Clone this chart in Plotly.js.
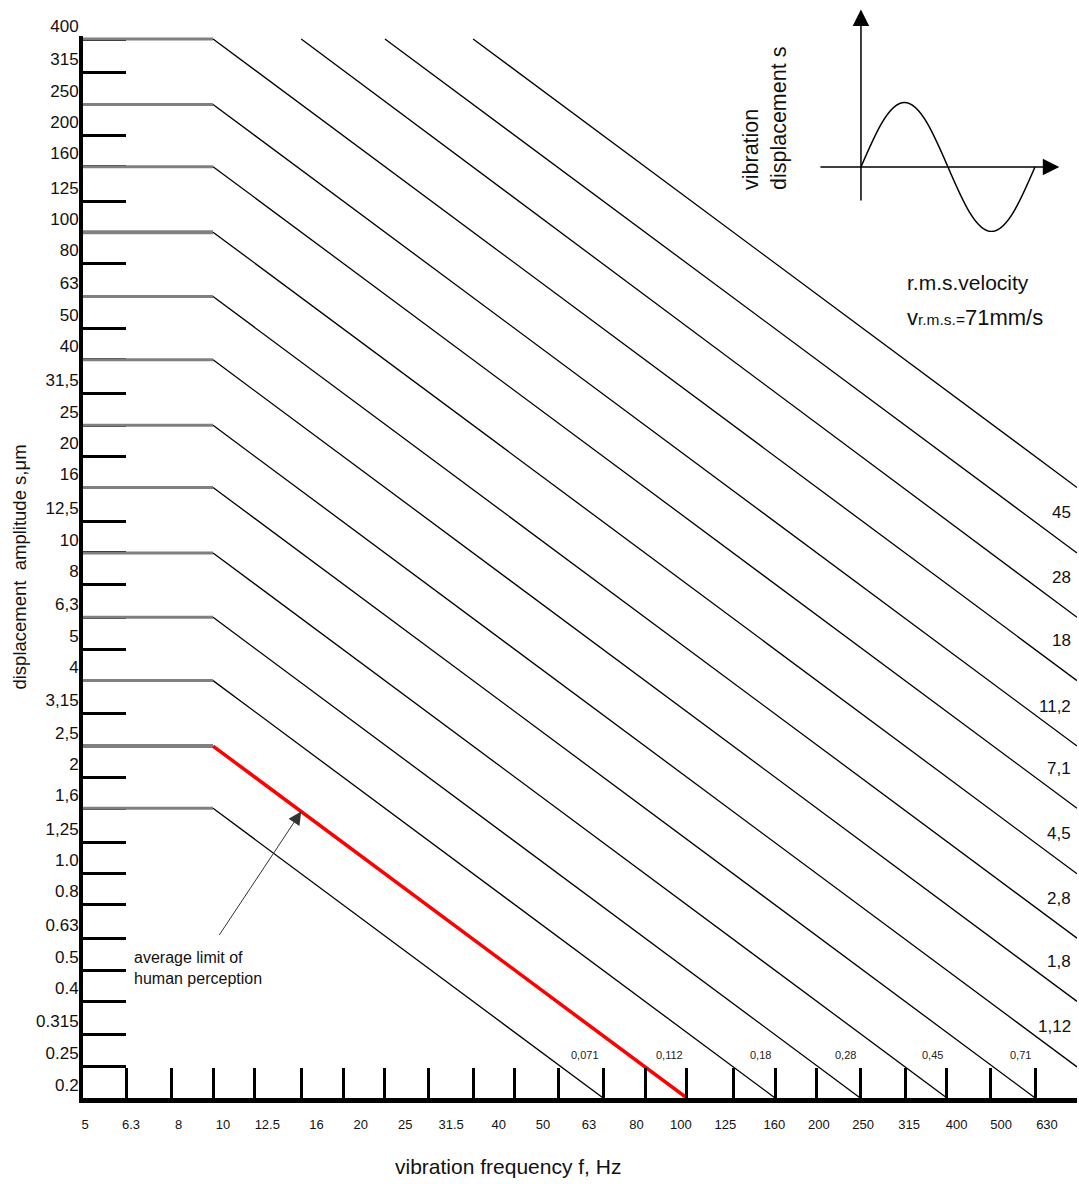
<!DOCTYPE html>
<html>
<head>
<meta charset="utf-8">
<script src="https://cdn.plot.ly/plotly-3.0.1.min.js"></script>
<style>
  html, body { margin: 0; padding: 0; background: #ffffff; }
  #chart { width: 1079px; height: 1184px; }
</style>
</head>
<body>
<div id="chart"></div>
<script>
// ---------------- DATA ----------------
// Displacement axis (µm): R10 tick values and labels as printed on the chart
const dispTicks = [0.2, 0.25, 0.315, 0.4, 0.5, 0.63, 0.8, 1, 1.25, 1.6, 2, 2.5, 3.15, 4, 5, 6.3, 8, 10,
                   12.5, 16, 20, 25, 31.5, 40, 50, 63, 80, 100, 125, 160, 200, 250, 315, 400];
const dispLabels = ['0.2', '0.25', '0.315', '0.4', '0.5', '0.63', '0.8', '1.0', '1,25', '1,6', '2', '2,5', '3,15', '4',
                    '5', '6,3', '8', '10', '12,5', '16', '20', '25', '31,5', '40', '50', '63', '80', '100', '125',
                    '160', '200', '250', '315', '400'];

// Frequency axis (Hz): tick marks and printed labels
const freqTicks = [6.3, 8, 10, 12.5, 16, 20, 25, 31.5, 40, 50, 63, 80, 100, 125, 160, 200, 250, 315, 400, 500, 630, 800, 1000];
const freqLabelVals = [5, 6.3, 8, 10, 12.5, 16, 20, 25, 31.5, 40, 50, 63, 80, 100, 125, 160, 200, 250, 315, 400, 500, 630];
const freqLabels = ['5', '6.3', '8', '10', '12.5', '16', '20', '25', '31.5', '40', '50', '63', '80', '100', '125',
                    '160', '200', '250', '315', '400', '500', '630'];

// Constant r.m.s. velocity lines (mm/s): label and end points (frequency Hz, displacement µm)
const velLabels     = ['0,071', '0,112', '0,18', '0,28', '0,45', '0,71', '1,12', '1,8', '2,8', '4,5', '7,1', '11,2', '18', '28', '45', '71'];
const lineStartFreq = [10, 10, 10, 10, 10, 10, 10, 10, 10, 10, 10, 10, 10, 16, 25, 40];
const lineStartDisp = [1.6, 2.5, 4, 6.3, 10, 16, 25, 40, 63, 100, 160, 250, 400, 400, 400, 400];
const lineEndFreq   = [80, 125, 200, 315, 500, 800, 1000, 1000, 1000, 1000, 1000, 1000, 1000, 1000, 1000, 1000];
const lineEndDisp   = [0.2, 0.2, 0.2, 0.2, 0.2, 0.2, 0.25, 0.4, 0.63, 1, 1.6, 2.5, 4, 6.3, 10, 16];

// Constant-displacement segments below 10 Hz (µm), from 5 Hz to 10 Hz
const flatDisp = [1.6, 2.5, 4, 6.3, 10, 16, 25, 40, 63, 100, 160, 250, 400];
const flatFreqFrom = 5, flatFreqTo = 10;
const flatThick = [2.5, 100];   // segments drawn heavier in the original

// Highlighted line: average limit of human perception
const perceptionLabel = '0,112';
const perceptionPoint = {f: 16, s: 1.5625};
const perceptionText = {f: 6.5, s: 0.51};

// ---------------- BUILD ----------------
const FONT = 'Liberation Sans, Arial, Helvetica, sans-serif';
const L = Math.log10;
const traces = [];

flatDisp.forEach(s => {
  traces.push({
    x: [flatFreqFrom, flatFreqTo], y: [s, s], mode: 'lines',
    line: {color: '#808080', width: flatThick.includes(s) ? 4 : 3},
    hoverinfo: 'skip', showlegend: false, xaxis: 'x', yaxis: 'y'
  });
});

velLabels.forEach((lab, i) => {
  if (lab === perceptionLabel) return;
  traces.push({
    x: [lineStartFreq[i], lineEndFreq[i]], y: [lineStartDisp[i], lineEndDisp[i]], mode: 'lines',
    line: {color: '#000000', width: 1.3},
    hoverinfo: 'skip', showlegend: false, xaxis: 'x', yaxis: 'y'
  });
});
const pi = velLabels.indexOf(perceptionLabel);
traces.push({
  x: [lineStartFreq[pi], lineEndFreq[pi]], y: [lineStartDisp[pi], lineEndDisp[pi]], mode: 'lines',
  line: {color: '#ff0000', width: 3.5},
  hoverinfo: 'skip', showlegend: false, xaxis: 'x', yaxis: 'y'
});

// carrier traces so the label axis and the inset axes exist
traces.push({x: [freqLabelVals[0]], y: [dispTicks[0]], xaxis: 'x2', yaxis: 'y', mode: 'markers',
             marker: {opacity: 0}, hoverinfo: 'skip', showlegend: false});
traces.push({x: [0], y: [0], xaxis: 'x3', yaxis: 'y3', mode: 'markers',
             marker: {opacity: 0}, hoverinfo: 'skip', showlegend: false});

const annotations = [];
const lastIdx = velLabels.length - 1;
velLabels.forEach((lab, i) => {
  if (i === lastIdx) return;
  if (lineEndDisp[i] === dispTicks[0]) {
    annotations.push({xref: 'x', yref: 'y', x: L(lineEndFreq[i]), y: L(lineEndDisp[i]), text: lab,
      showarrow: false, xanchor: 'right', yanchor: 'middle', xshift: -2, yshift: 43,
      font: {family: FONT, size: 11, color: '#222'}});
  } else {
    annotations.push({xref: 'x', yref: 'y', x: L(lineEndFreq[i]), y: L(lineEndDisp[i]), text: lab,
      showarrow: false, xanchor: 'right', yanchor: 'middle', xshift: -4, yshift: 40,
      font: {family: FONT, size: 17, color: '#111'}});
  }
});

// perception arrow and text
annotations.push({xref: 'x', yref: 'y', x: L(perceptionPoint.f), y: L(perceptionPoint.s), text: '',
  showarrow: true, arrowhead: 2, arrowsize: 2.6, arrowwidth: 1, arrowcolor: '#333', ax: -83, ay: 125});
annotations.push({xref: 'x', yref: 'y', x: L(perceptionText.f), y: L(perceptionText.s),
  text: 'average limit of<br>human perception', showarrow: false, align: 'left',
  xanchor: 'left', yanchor: 'middle', font: {family: FONT, size: 16, color: '#111'}});

// x-axis title
annotations.push({xref: 'paper', yref: 'paper', x: 0.4276, y: -0.0628, text: 'vibration frequency f, Hz',
  showarrow: false, xanchor: 'center', yanchor: 'middle', font: {family: FONT, size: 21, color: '#111'}});

// inset: axes arrows, sine, captions
annotations.push({xref: 'x3', yref: 'y3', axref: 'x3', ayref: 'y3', x: 0, y: 2.44, ax: 0, ay: -0.543,
  text: '', showarrow: true, arrowhead: 2, arrowsize: 2.2, arrowwidth: 1.5, arrowcolor: '#000'});
annotations.push({xref: 'x3', yref: 'y3', axref: 'x3', ayref: 'y3', x: 1.14, y: 0, ax: -0.2414, ay: 0,
  text: '', showarrow: true, arrowhead: 2, arrowsize: 2.2, arrowwidth: 1.5, arrowcolor: '#000'});
annotations.push({xref: 'paper', yref: 'paper', x: 0.6861, y: 0.8925, text: 'vibration<br>displacement s',
  textangle: -90, align: 'left', xanchor: 'center', yanchor: 'middle', showarrow: false,
  font: {family: FONT, size: 21.5, color: '#111'}});
annotations.push({xref: 'paper', yref: 'paper', x: 0.827, y: 0.7423, text: 'r.m.s.velocity',
  xanchor: 'left', yanchor: 'middle', showarrow: false, font: {family: FONT, size: 21, color: '#111'}});
annotations.push({xref: 'paper', yref: 'paper', x: 0.827, y: 0.7104,
  text: 'v<span style="font-size:15.5px">r.m.s.=</span>' + velLabels[lastIdx] + 'mm/s',
  xanchor: 'left', yanchor: 'middle', showarrow: false, font: {family: FONT, size: 22, color: '#111'}});

const shapes = [{
  type: 'path', xref: 'x3', yref: 'y3',
  path: 'M0,0 C0.0815,0.5122 0.16,1 0.25,1 C0.34,1 0.4185,0.5122 0.5,0 C0.5815,-0.5122 0.66,-1 0.75,-1 C0.84,-1 0.9185,-0.5122 1,0',
  line: {color: '#000', width: 1.5}
}];

// 3 px of headroom above the 400 µm line so its stroke is not clipped
const topPad = 3 / 320.8;

const layout = {
  width: 1079, height: 1184,
  margin: {l: 83, r: 2, t: 0, b: 86, pad: 0},
  paper_bgcolor: '#ffffff', plot_bgcolor: 'rgba(0,0,0,0)',
  font: {family: FONT, color: '#111'},
  showlegend: false,
  xaxis: {type: 'log', range: [L(5), 3], domain: [0, 1], tickmode: 'array', tickvals: freqTicks,
          ticks: 'inside', ticklen: 30, tickwidth: 3, tickcolor: '#000', showticklabels: false,
          showline: true, linewidth: 5, linecolor: '#000', showgrid: false, zeroline: false, fixedrange: true},
  xaxis2: {type: 'log', overlaying: 'x', side: 'bottom', anchor: 'y', range: [0.6945, 2.8649],
           tickmode: 'array', tickvals: freqLabelVals, ticktext: freqLabels, ticks: '',
           showline: false, showgrid: false, zeroline: false, ticklabelstandoff: 17,
           tickfont: {family: FONT, size: 13, color: '#111'}, fixedrange: true},
  yaxis: {type: 'log', range: [L(0.2), L(400) + topPad], domain: [0, 1062 / 1098], tickmode: 'array',
          tickvals: dispTicks, ticktext: dispLabels, ticks: 'inside', ticklen: 43, tickwidth: 3, tickcolor: '#000',
          ticklabelposition: 'outside top', ticklabelstandoff: -3, tickfont: {family: FONT, size: 17, color: '#111'},
          showline: true, linewidth: 4, linecolor: '#000', showgrid: false, zeroline: false,
          layer: 'below traces', fixedrange: true,
          title: {text: 'displacement\u00a0 amplitude s,\u03bcm', font: {family: FONT, size: 18.5, color: '#111'}, standoff: 6}},
  xaxis3: {domain: [0.7404, 0.9859], range: [-0.2414, 1.161], anchor: 'y3', visible: false, fixedrange: true},
  yaxis3: {domain: [0.78871, 0.99271], range: [-1.008, 2.465], anchor: 'x3', visible: false, fixedrange: true},
  annotations: annotations,
  shapes: shapes
};

Plotly.newPlot('chart', traces, layout, {displayModeBar: false, responsive: false});
</script>
</body>
</html>
